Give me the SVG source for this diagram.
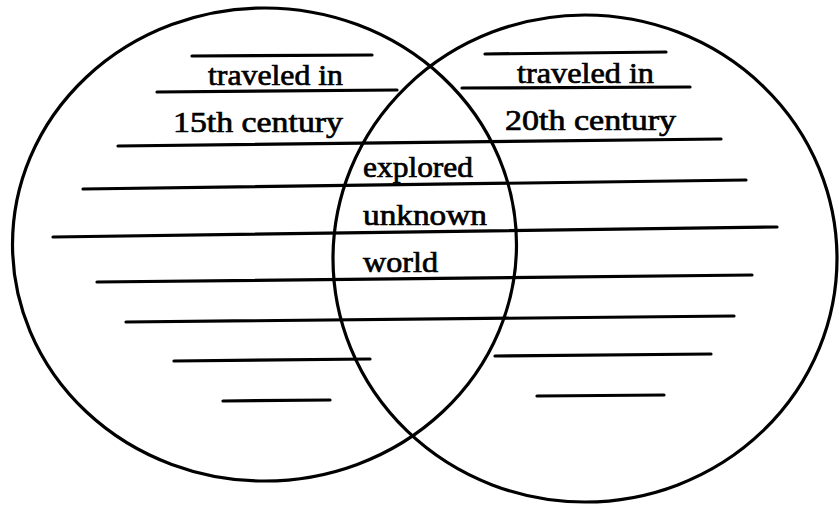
<svg xmlns="http://www.w3.org/2000/svg" width="839" height="508" viewBox="0 0 839 508">
<style>
.c{fill:none;stroke:#000;stroke-width:3.2}
.l{stroke:#000;stroke-width:3.2;stroke-linecap:round}
.t{font-family:"Liberation Serif","DejaVu Serif",serif;font-size:30px;fill:#000;stroke:#000;stroke-width:0.7}
</style>
<rect width="839" height="508" fill="#fff"/>
<g id="left-circle"><ellipse class="c" cx="264.5" cy="244.5" rx="252" ry="236.5"/></g>
<g id="right-circle"><ellipse class="c" cx="585" cy="258.5" rx="252" ry="243.5"/></g>
<g id="lines">
<line class="l" x1="192" y1="56" x2="372" y2="55"/>
<line class="l" x1="157" y1="92" x2="397" y2="90"/>
<line class="l" x1="485" y1="54" x2="666" y2="52"/>
<line class="l" x1="462" y1="88" x2="690" y2="87"/>
<line class="l" x1="118" y1="146" x2="721" y2="139"/>
<line class="l" x1="83" y1="189" x2="746" y2="180"/>
<line class="l" x1="53" y1="237" x2="777" y2="227"/>
<line class="l" x1="97" y1="282" x2="752" y2="275"/>
<line class="l" x1="126" y1="322" x2="734" y2="316"/>
<line class="l" x1="174" y1="361" x2="370" y2="359"/>
<line class="l" x1="223" y1="401" x2="330" y2="400"/>
<line class="l" x1="495" y1="356" x2="711" y2="354"/>
<line class="l" x1="537" y1="396" x2="664" y2="395"/>
</g>
<g id="left-label">
<text class="t" x="208" y="85" textLength="135" lengthAdjust="spacingAndGlyphs">traveled in</text>
<text class="t" x="173" y="132" textLength="170" lengthAdjust="spacingAndGlyphs">15th century</text>
</g>
<g id="right-label">
<text class="t" x="517" y="83" textLength="137" lengthAdjust="spacingAndGlyphs">traveled in</text>
<text class="t" x="505" y="130" textLength="171" lengthAdjust="spacingAndGlyphs">20th century</text>
</g>
<g id="middle-label">
<text class="t" x="363" y="177" textLength="110" lengthAdjust="spacingAndGlyphs">explored</text>
<text class="t" x="363" y="225" textLength="124" lengthAdjust="spacingAndGlyphs">unknown</text>
<text class="t" x="363" y="272" textLength="75" lengthAdjust="spacingAndGlyphs">world</text>
</g>
</svg>
